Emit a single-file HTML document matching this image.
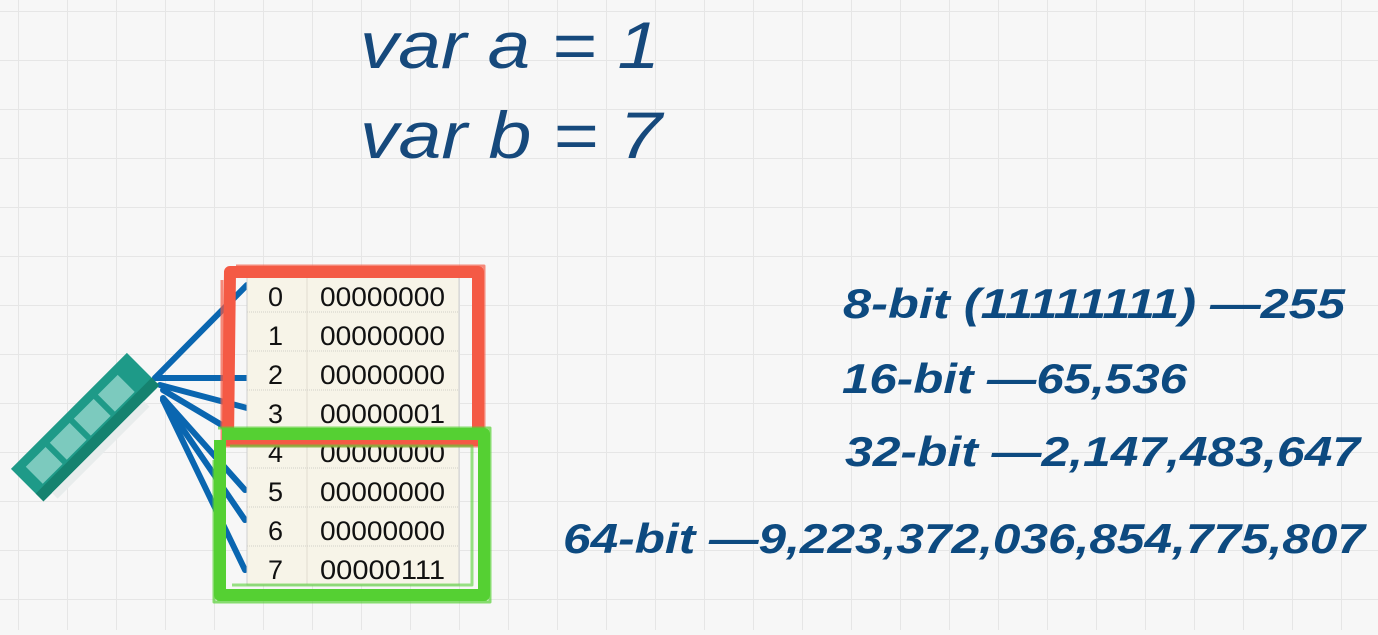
<!DOCTYPE html>
<html><head><style>
html,body{margin:0;padding:0;}
body{width:1378px;height:630px;overflow:hidden;background:#f6f6f6;}
</style></head><body>
<svg width="1378" height="630" viewBox="0 0 1378 630" xmlns="http://www.w3.org/2000/svg">
<defs>
<pattern id="g" x="18" y="11" width="49" height="49" patternUnits="userSpaceOnUse">
<rect width="49" height="49" fill="#f7f7f7"/>
<path d="M0 0H49M0 0V49" stroke="#e6e6e6" stroke-width="2" fill="none"/>
</pattern>
</defs>
<rect width="1378" height="630" fill="url(#g)"/>
<g font-family="Liberation Sans, sans-serif" font-style="italic" fill="#16497c">
<text x="360" y="68" font-size="66" textLength="300" lengthAdjust="spacingAndGlyphs">var a = 1</text>
<text x="360" y="158" font-size="66" textLength="302" lengthAdjust="spacingAndGlyphs">var b = 7</text>
</g>
<g font-family="Liberation Sans, sans-serif" font-style="italic" font-weight="bold" fill="#0d4a80" font-size="42">
<text x="843" y="318" textLength="502" lengthAdjust="spacingAndGlyphs">8-bit (11111111) —255</text>
<text x="842" y="393" textLength="345" lengthAdjust="spacingAndGlyphs">16-bit  —65,536</text>
<text x="845" y="466" textLength="515" lengthAdjust="spacingAndGlyphs">32-bit  —2,147,483,647</text>
<text x="563" y="553" textLength="802" lengthAdjust="spacingAndGlyphs">64-bit  —9,223,372,036,854,775,807</text>
</g>
<g stroke="#0a66b0" stroke-width="6" stroke-linecap="round" fill="none">
<line x1="155" y1="378" x2="247" y2="285"/>
<line x1="155" y1="378" x2="247" y2="378"/>
<line x1="160" y1="385" x2="247" y2="408"/>
<line x1="163" y1="390" x2="247" y2="440"/>
<line x1="163" y1="398" x2="245" y2="490"/>
<line x1="163" y1="400" x2="245" y2="520"/>
<line x1="163" y1="400" x2="245" y2="570"/>
</g>
<g transform="translate(88,430) rotate(-45)">
<rect x="-82" y="-27" width="164" height="46" fill="#1e9a88"/>
<rect x="-82" y="8" width="164" height="11" fill="#15826f"/>
<rect x="-70" y="19" width="130" height="8" fill="#e8ecec"/>
<rect x="-70" y="-18" width="28" height="24" fill="#7ccabe"/>
<rect x="-36" y="-18" width="28" height="24" fill="#7ccabe"/>
<rect x="-2" y="-18" width="28" height="24" fill="#7ccabe"/>
<rect x="32" y="-18" width="28" height="24" fill="#7ccabe"/>
</g>
<g>
<rect x="247" y="273" width="212" height="312" fill="#f7f4e8" stroke="#cfcfcf"/>
<line x1="307" y1="273" x2="307" y2="585" stroke="#e0ddd0"/>
<g stroke="#d2d0c8" stroke-dasharray="1 1">
<line x1="247" y1="312" x2="459" y2="312"/><line x1="247" y1="351" x2="459" y2="351"/>
<line x1="247" y1="390" x2="459" y2="390"/><line x1="247" y1="429" x2="459" y2="429"/>
<line x1="247" y1="468" x2="459" y2="468"/><line x1="247" y1="507" x2="459" y2="507"/>
<line x1="247" y1="546" x2="459" y2="546"/>
</g>
<g font-family="Liberation Sans, sans-serif" font-size="27" fill="#111">
<text x="268" y="306">0</text><text x="320" y="306" textLength="125" lengthAdjust="spacingAndGlyphs">00000000</text>
<text x="268" y="345">1</text><text x="320" y="345" textLength="125" lengthAdjust="spacingAndGlyphs">00000000</text>
<text x="268" y="384">2</text><text x="320" y="384" textLength="125" lengthAdjust="spacingAndGlyphs">00000000</text>
<text x="268" y="423">3</text><text x="320" y="423" textLength="125" lengthAdjust="spacingAndGlyphs">00000001</text>
<text x="268" y="462">4</text><text x="320" y="462" textLength="125" lengthAdjust="spacingAndGlyphs">00000000</text>
<text x="268" y="501">5</text><text x="320" y="501" textLength="125" lengthAdjust="spacingAndGlyphs">00000000</text>
<text x="268" y="540">6</text><text x="320" y="540" textLength="125" lengthAdjust="spacingAndGlyphs">00000000</text>
<text x="268" y="579">7</text><text x="320" y="579" textLength="125" lengthAdjust="spacingAndGlyphs">00000111</text>
</g>
</g>
<g fill="none" stroke="#f45a45" stroke-linejoin="round">
<path d="M230 272 H478 V440 H228 Z" stroke-width="12"/>
<path d="M236 266 H484 V446 H222 V280" stroke-width="3" opacity="0.7"/>
</g>
<g fill="none" stroke="#55d033" stroke-linejoin="round">
<path d="M222 434 H484 V595 H220 V440" stroke-width="12"/>
<path d="M218 428 H490 V602 H214 V460" stroke-width="3" opacity="0.7"/>
<path d="M230 446 H472 V585 H232" stroke-width="3" opacity="0.6"/>
</g>
</svg>
</body></html>
